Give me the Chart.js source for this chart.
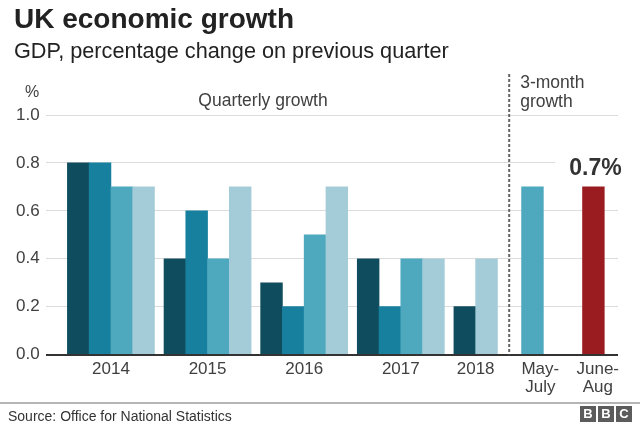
<!DOCTYPE html>
<html>
<head>
    <meta charset="utf-8">
    <title>UK economic growth</title>
    <script src="https://cdn.jsdelivr.net/npm/chart.js"></script>
    <style>
        body { margin: 0; background: #fff; font-family: "Liberation Sans", Arial, Helvetica, sans-serif; }
        .wrap { position: relative; width: 640px; height: 428px; overflow: hidden; }
        .wrap canvas { position: absolute; left: 0; top: 0; }
        .title { position: absolute; left: 14px; top: 3px; font-size: 28px; line-height: 32px; font-weight: bold; color: #222; white-space: nowrap; }
        .subtitle { position: absolute; left: 14px; top: 38px; font-size: 21.7px; line-height: 25px; color: #222; white-space: nowrap; }
        .rule { position: absolute; left: 0; top: 402px; width: 640px; height: 2px; background: #b5b5b5; }
        .source { position: absolute; left: 8px; top: 408px; font-size: 14px; line-height: 16px; color: #333; }
        .bbc { position: absolute; left: 580px; top: 406px; display: flex; gap: 2px; }
        .bbc span { width: 16px; height: 16px; background: #5c5c5c; color: #fff; font-weight: bold; font-size: 13px; line-height: 16px; text-align: center; }
    </style>
</head>
<body>
    <div class="wrap">
        <canvas id="growthChart" width="640" height="428"></canvas>
        <div class="title">UK economic growth</div>
        <div class="subtitle">GDP, percentage change on previous quarter</div>
        <div class="rule"></div>
        <div class="source">Source: Office for National Statistics</div>
        <div class="bbc"><span>B</span><span>B</span><span>C</span></div>
    </div>

    <script>
        // data
        const years = ['2014', '2015', '2016', '2017', '2018'];
        const quarterly = [
            [0.8, 0.8, 0.7, 0.7],
            [0.4, 0.6, 0.4, 0.7],
            [0.3, 0.2, 0.5, 0.7],
            [0.4, 0.2, 0.4, 0.4],
            [0.2, 0.4]
        ];
        const threeMonthLabels = [['May-', 'July'], ['June-', 'Aug']];
        const threeMonth = [0.7, 0.7];
        const yTicks = [0, 0.2, 0.4, 0.6, 0.8, 1.0];
        const highlightLabel = '0.7%';

        // x axis is measured in bar widths
        const firstBar = 1.5, groupStep = 4.44;
        const threeMonthAt = [22.37, 25.17];
        const labelNudge = [0.36, 0.2];
        const dividerAt = 21.3;
        const xMax = 26.3;

        const shades = ['#0f4d5e', '#17809f', '#4ea8be', '#a3cbd8'];
        const threeMonthColours = ['#4ea8be', '#9a1c20'];
        const fontFamily = '"Liberation Sans", Arial, Helvetica, sans-serif';

        var points = [], colours = [], tickAt = [], tickText = [];
        years.forEach(function(yr, g) {
            var vals = quarterly[g];
            var start = firstBar + g * groupStep;
            vals.forEach(function(v, q) {
                points.push({x: start + q, y: v});
                // latest quarter of each year is the light shade
                colours.push(q === vals.length - 1 ? shades[3] : shades[q]);
            });
            tickAt.push(start + (vals.length - 1) / 2);
            tickText.push(yr);
        });
        threeMonth.forEach(function(v, i) {
            points.push({x: threeMonthAt[i], y: v});
            colours.push(threeMonthColours[i]);
            tickAt.push(threeMonthAt[i] + labelNudge[i]);
            tickText.push(threeMonthLabels[i]);
        });

        var notes = {
            id: 'notes',
            afterDatasetsDraw: function(chart) {
                var ctx = chart.ctx, area = chart.chartArea;
                var x = chart.scales.x, y = chart.scales.y;
                ctx.save();
                ctx.fillStyle = '#404040';
                ctx.textBaseline = 'alphabetic';
                ctx.textAlign = 'center';
                ctx.font = '16px ' + fontFamily;
                ctx.fillText('%', 32, 97);
                ctx.font = '17.5px ' + fontFamily;
                ctx.fillText('Quarterly growth', 263, 106);

                var dx = x.getPixelForValue(dividerAt);
                ctx.textAlign = 'left';
                ctx.fillText('3-month', dx + 11, 88);
                ctx.fillText('growth', dx + 11, 106.5);

                ctx.strokeStyle = '#666';
                ctx.lineWidth = 2;
                ctx.setLineDash([3, 2]);
                ctx.beginPath();
                ctx.moveTo(dx, 74);
                ctx.lineTo(dx, area.bottom);
                ctx.stroke();
                ctx.setLineDash([]);

                var last = points[points.length - 1];
                var bx = x.getPixelForValue(last.x) + 2, by = y.getPixelForValue(last.y);
                ctx.font = 'bold 23px ' + fontFamily;
                ctx.textAlign = 'center';
                var w = ctx.measureText(highlightLabel).width;
                ctx.fillStyle = '#fff';
                ctx.fillRect(bx - w / 2 - 14, by - 34, w + 40, 24);
                ctx.fillStyle = '#333';
                ctx.fillText(highlightLabel, bx, by - 12);
                ctx.restore();
            }
        };

        Chart.defaults.font.family = fontFamily;
        var ctx = document.getElementById('growthChart').getContext('2d');
        var growthChart = new Chart(ctx, {
            type: 'bar',
            data: {
                datasets: [{
                    data: points,
                    backgroundColor: colours,
                    borderWidth: 0,
                    barPercentage: 1,
                    categoryPercentage: 1
                }]
            },
            options: {
                responsive: false,
                animation: false,
                devicePixelRatio: 1,
                layout: { padding: { left: 10, right: 22, top: 115, bottom: 26 } },
                plugins: { legend: { display: false }, tooltip: { enabled: false } },
                scales: {
                    x: {
                        type: 'linear',
                        offset: false,
                        min: 0,
                        max: xMax,
                        grid: { display: false, drawTicks: false },
                        border: { display: false },
                        afterBuildTicks: function(s) { s.ticks = tickAt.map(function(v) { return {value: v}; }); },
                        ticks: {
                            autoSkip: false,
                            maxRotation: 0,
                            padding: 5,
                            color: '#404040',
                            font: { size: 17, lineHeight: 1.1 },
                            callback: function(v, i) { return tickText[i]; }
                        }
                    },
                    y: {
                        min: 0,
                        max: 1,
                        afterBuildTicks: function(s) { s.ticks = yTicks.map(function(v) { return {value: v}; }); },
                        grid: {
                            drawTicks: false,
                            color: function(c) { return c.tick.value === 0 ? '#333' : '#dcdcdc'; },
                            lineWidth: function(c) { return c.tick.value === 0 ? 2 : 1; }
                        },
                        border: { display: false },
                        ticks: {
                            padding: 6,
                            color: '#404040',
                            font: { size: 17 },
                            callback: function(v) { return v.toFixed(1); }
                        }
                    }
                }
            },
            plugins: [notes]
        });
    </script>
</body>
</html>
